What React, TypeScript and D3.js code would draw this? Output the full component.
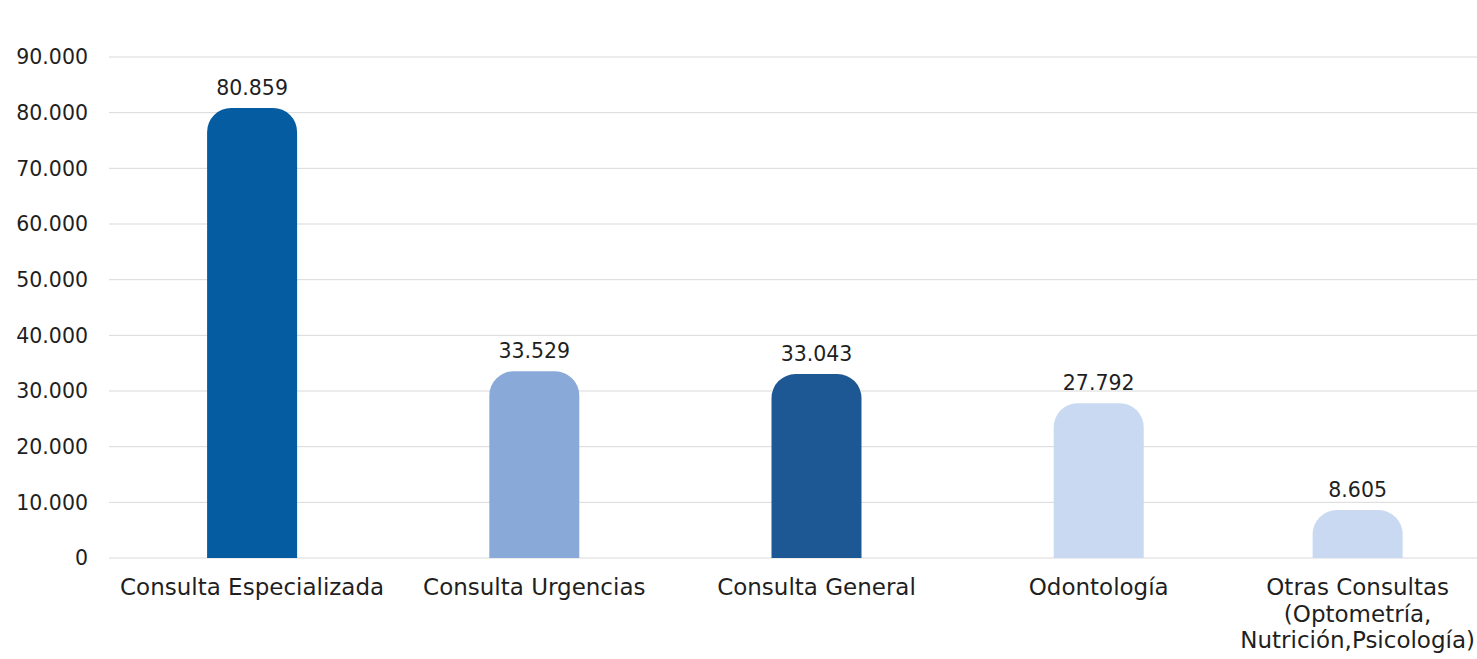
import React from "react";
import * as d3 from "d3";

const categories = [
  "Consulta Especializada",
  "Consulta Urgencias",
  "Consulta General",
  "Odontología",
  "Otras Consultas (Optometría, Nutrición,Psicología)",
];
const labelLines = [
  ["Consulta Especializada"],
  ["Consulta Urgencias"],
  ["Consulta General"],
  ["Odontología"],
  ["Otras Consultas", "(Optometría,", "Nutrición,Psicología)"],
];
const values = [80859, 33529, 33043, 27792, 8605];
const colors = ["#055CA0", "#89AAD9", "#1E5894", "#C8D9F1", "#C8D9F1"];
const yTicks = [0, 10000, 20000, 30000, 40000, 50000, 60000, 70000, 80000, 90000];

const W = 1477;
const H = 659;
const FONT = "'DejaVu Sans', sans-serif";
const FS = 20.5;
const CAT_FS = 23;

const fmt = (v: number) => d3.format(",")(v).replace(/,/g, ".");

function measure(text: string, size: number): number {
  if (typeof document === "undefined") return text.length * size * 0.6;
  const c = document.createElement("canvas").getContext("2d");
  if (!c) return text.length * size * 0.6;
  c.font = `${size}px ${FONT}`;
  return c.measureText(text).width;
}

function barPath(x: number, y: number, w: number, h: number, r: number) {
  const rr = Math.min(r, w / 2, h);
  return `M${x},${y + h}V${y + rr}A${rr},${rr} 0 0 1 ${x + rr},${y}H${x + w - rr}A${rr},${rr} 0 0 1 ${x + w},${y + rr}V${y + h}Z`;
}

export default function App() {
  const y = d3.scaleLinear().domain([0, 90000]).range([558, 57]);
  const x = d3.scaleBand<string>().domain(categories).range([111, 1522]).padding(0);
  const barW = 90;
  const gridX0 = 109;

  const centers = categories.map((c, i) => {
    const raw = (x(c) as number) + x.bandwidth() / 2;
    const maxW = d3.max(labelLines[i], (l) => measure(l, CAT_FS)) as number;
    return Math.min(raw, W - 2 - maxW / 2);
  });

  return (
    <svg
      width={W}
      height={H}
      style={{ position: "absolute", left: 0, top: 0, background: "#fff" }}
      fontFamily={FONT}
    >
      <rect x={0} y={0} width={W} height={H} fill="#fff" />
      {yTicks.map((t) => (
        <g key={t}>
          <line x1={gridX0} x2={W} y1={y(t)} y2={y(t)} stroke="#D9D9D9" strokeWidth={1} />
          <text x={88} y={y(t)} dy="0.36em" textAnchor="end" fontSize={FS} fill="#1f1f1f">
            {fmt(t)}
          </text>
        </g>
      ))}
      {categories.map((c, i) => {
        const cx = centers[i];
        const top = y(values[i]);
        return (
          <g key={c}>
            <path d={barPath(cx - barW / 2, top, barW, y(0) - top, 24)} fill={colors[i]} />
            <text x={cx} y={top - 13} textAnchor="middle" fontSize={FS} fill="#1f1f1f">
              {fmt(values[i])}
            </text>
            {labelLines[i].map((l, j) => (
              <text key={j} x={cx} y={595 + j * 26.5} textAnchor="middle" fontSize={CAT_FS} fill="#1f1f1f">
                {l}
              </text>
            ))}
          </g>
        );
      })}
    </svg>
  );
}
